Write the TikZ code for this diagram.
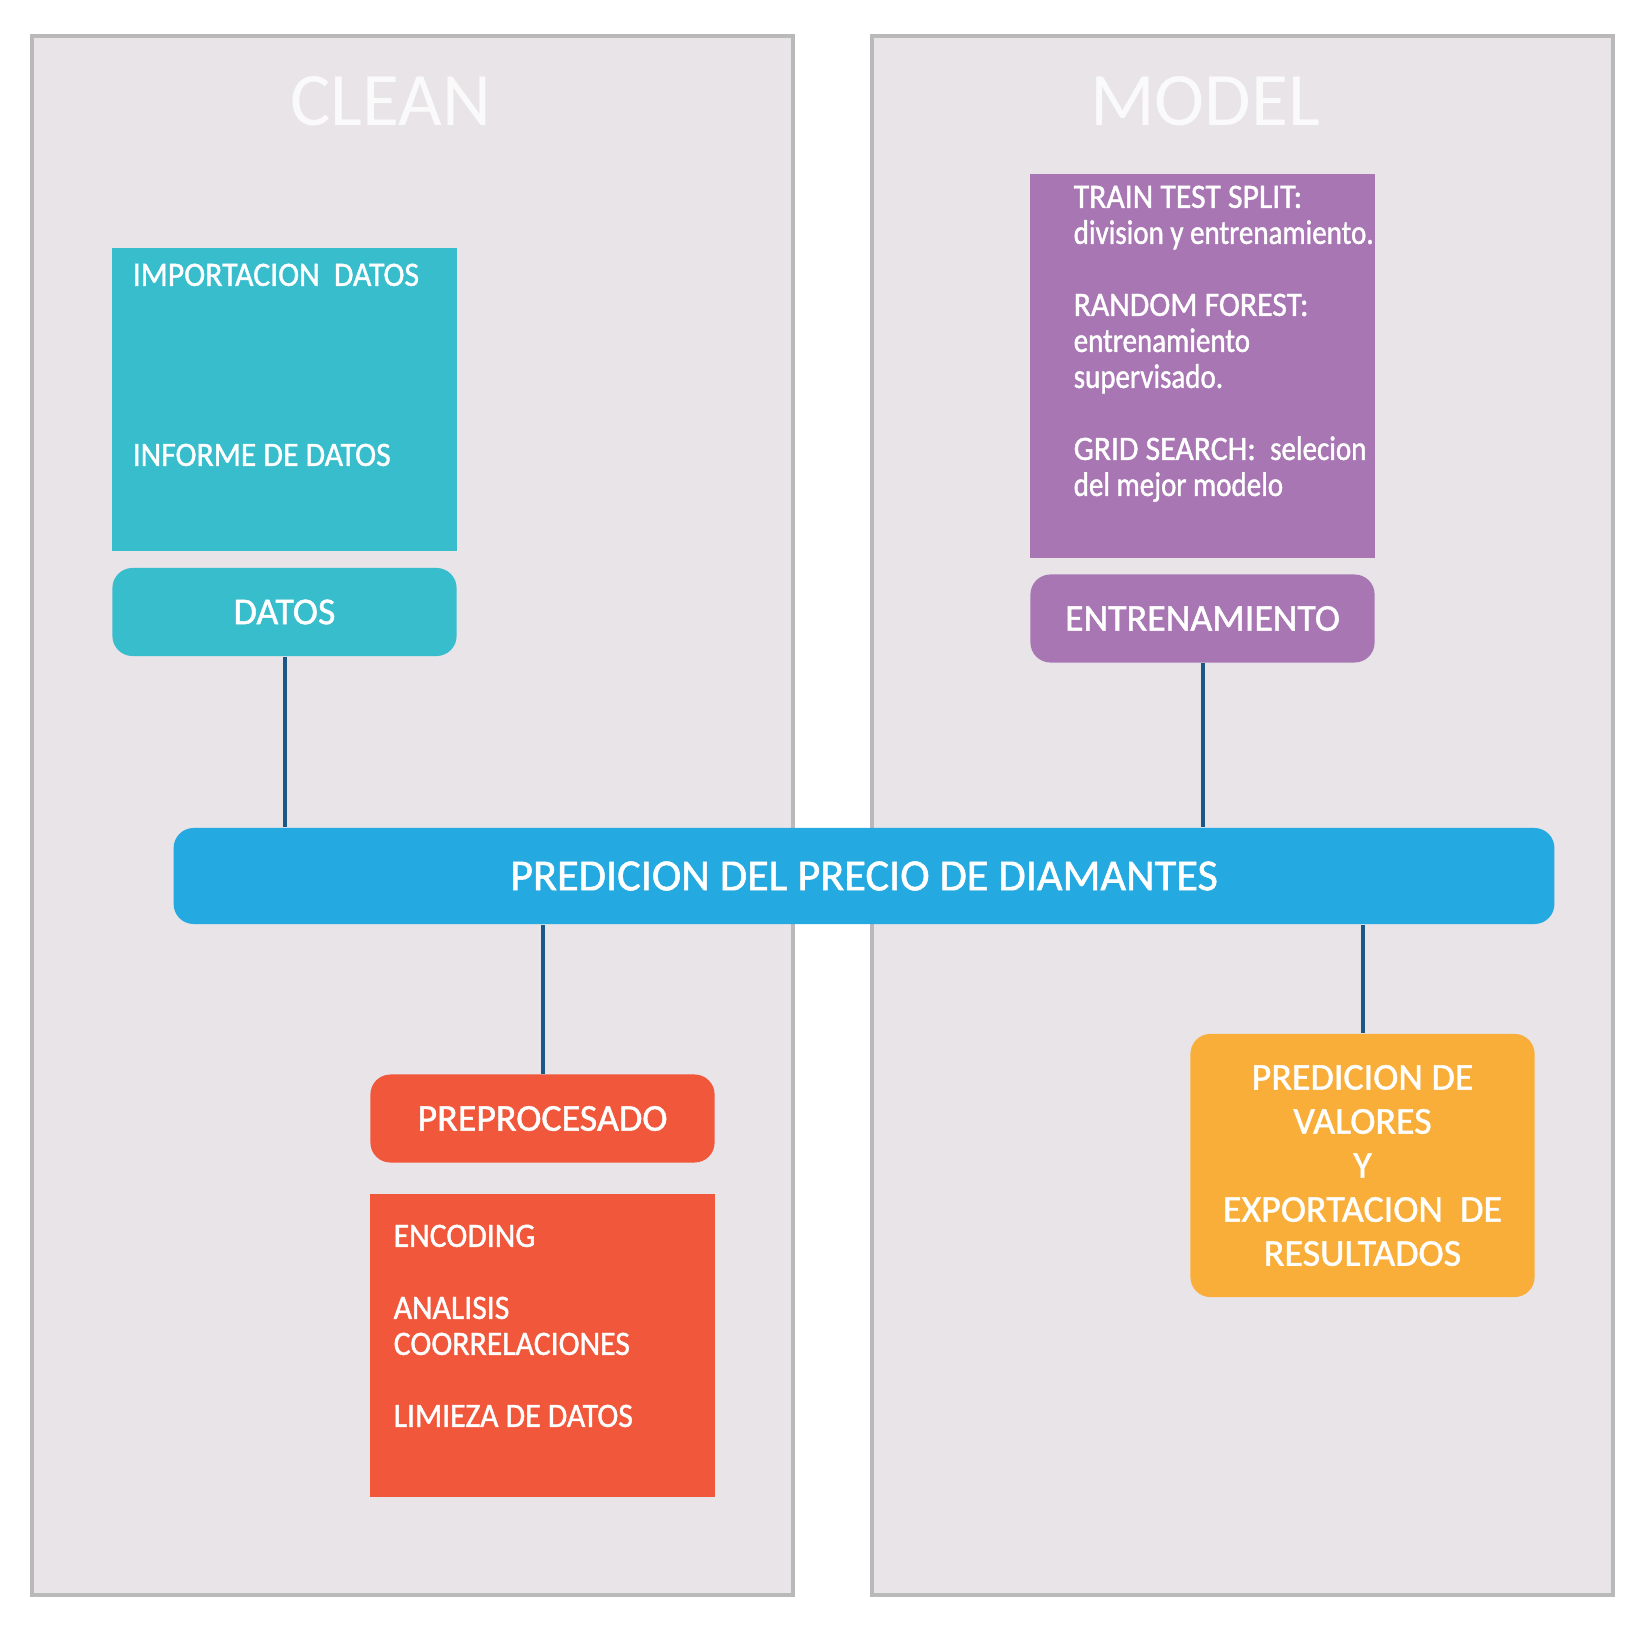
\documentclass[tikz,border=0pt]{standalone}
\usepackage{fontspec}
\setmainfont{Carlito}
\newfontfamily\boxfont[FakeBold=1.2]{Carlito}
\newfontfamily\infofont[FakeBold=1.2,FakeStretch=0.93]{Carlito}
\newfontfamily\infolower[FakeBold=1.2,FakeStretch=0.85]{Carlito}
\definecolor{panelbg}{HTML}{E8E4E8}
\definecolor{panelline}{HTML}{B9B9B9}
\definecolor{tealbox}{HTML}{38BDCC}
\definecolor{purplebox}{HTML}{A776B3}
\definecolor{bluebar}{HTML}{24A9E0}
\definecolor{redbox}{HTML}{F0573B}
\definecolor{yellowbox}{HTML}{F9AE3A}
\definecolor{linkblue}{HTML}{1C5887}
\definecolor{titlewhite}{HTML}{FAFAFA}
\begin{document}
\begin{tikzpicture}[x=0.01cm,y=-0.01cm,
  panel/.style={draw=panelline,fill=panelbg,line width=1.14pt},
  title/.style={text=titlewhite,inner sep=0,font=\fontsize{21.5}{26}\selectfont},
  infobox/.style={rectangle,minimum width=3.44cm,inner sep=0},
  info/.style={anchor=north west,inner sep=0,align=left,text=white,font=\infofont\fontsize{9.7}{10.24}\selectfont},
  head/.style={rectangle,rounded corners=0.2cm,minimum width=3.44cm,minimum height=0.88cm,inner sep=0,text=white,font=\boxfont\fontsize{10.8}{13}\selectfont},
  link/.style={draw=linkblue,line width=1.14pt}]
\useasboundingbox (0,0) rectangle (1640,1628);
\draw[panel] (32,36) rectangle (793,1595);
\draw[panel] (872,36) rectangle (1613,1595);
\node[title] (clean) at (391,101) {CLEAN};
\node[title] (model) at (1205,101) {MODEL};
\node[infobox,fill=tealbox,minimum height=3.03cm] (datosinfo) at (284.5,399.5) {};
\node[info] (datostxt) at (132,263) {IMPORTACION\ \ DATOS\\[4\baselineskip]INFORME DE DATOS};
\node[head,fill=tealbox] (datos) at (284.5,612) {DATOS};
\node[infobox,fill=purplebox,minimum height=3.84cm] (entreninfo) at (1202.5,366) {};
\node[info] (entrentxt) at (1073,185) {TRAIN TEST SPLIT:\\{\infolower division y entrenamiento.}\\[\baselineskip]RANDOM FOREST:\\{\infolower entrenamiento}\\{\infolower supervisado.}\\[\baselineskip]GRID SEARCH:\ \ {\infolower selecion}\\{\infolower del mejor modelo}};
\node[head,fill=purplebox] (entren) at (1202.5,618.5) {ENTRENAMIENTO};
\node[head,fill=bluebar,minimum width=13.8cm,minimum height=0.96cm,font=\boxfont\fontsize{12.6}{15}\selectfont] (predicion) at (864,876) {PREDICION DEL PRECIO DE DIAMANTES};
\node[head,fill=redbox] (preproc) at (542.5,1118.5) {PREPROCESADO};
\node[infobox,fill=redbox,minimum height=3.03cm] (preprocinfo) at (542.5,1345.5) {};
\node[info] (preproctxt) at (393,1224) {ENCODING\\[\baselineskip]ANALISIS\\COORRELACIONES\\[\baselineskip]LIMIEZA DE DATOS};
\node[head,fill=yellowbox,minimum height=2.63cm,align=center,font=\boxfont\fontsize{10.8}{12.52}\selectfont] (resultados) at (1362.5,1165.5) {PREDICION DE\\VALORES\\Y\\EXPORTACION\ \ DE\\RESULTADOS};
\draw[link] (datos.south) -- (datos.south |- predicion.north);
\draw[link] (entren.south) -- (entren.south |- predicion.north);
\draw[link] (preproc.north) -- (preproc.north |- predicion.south);
\draw[link] (resultados.north) -- (resultados.north |- predicion.south);
\end{tikzpicture}
\end{document}
